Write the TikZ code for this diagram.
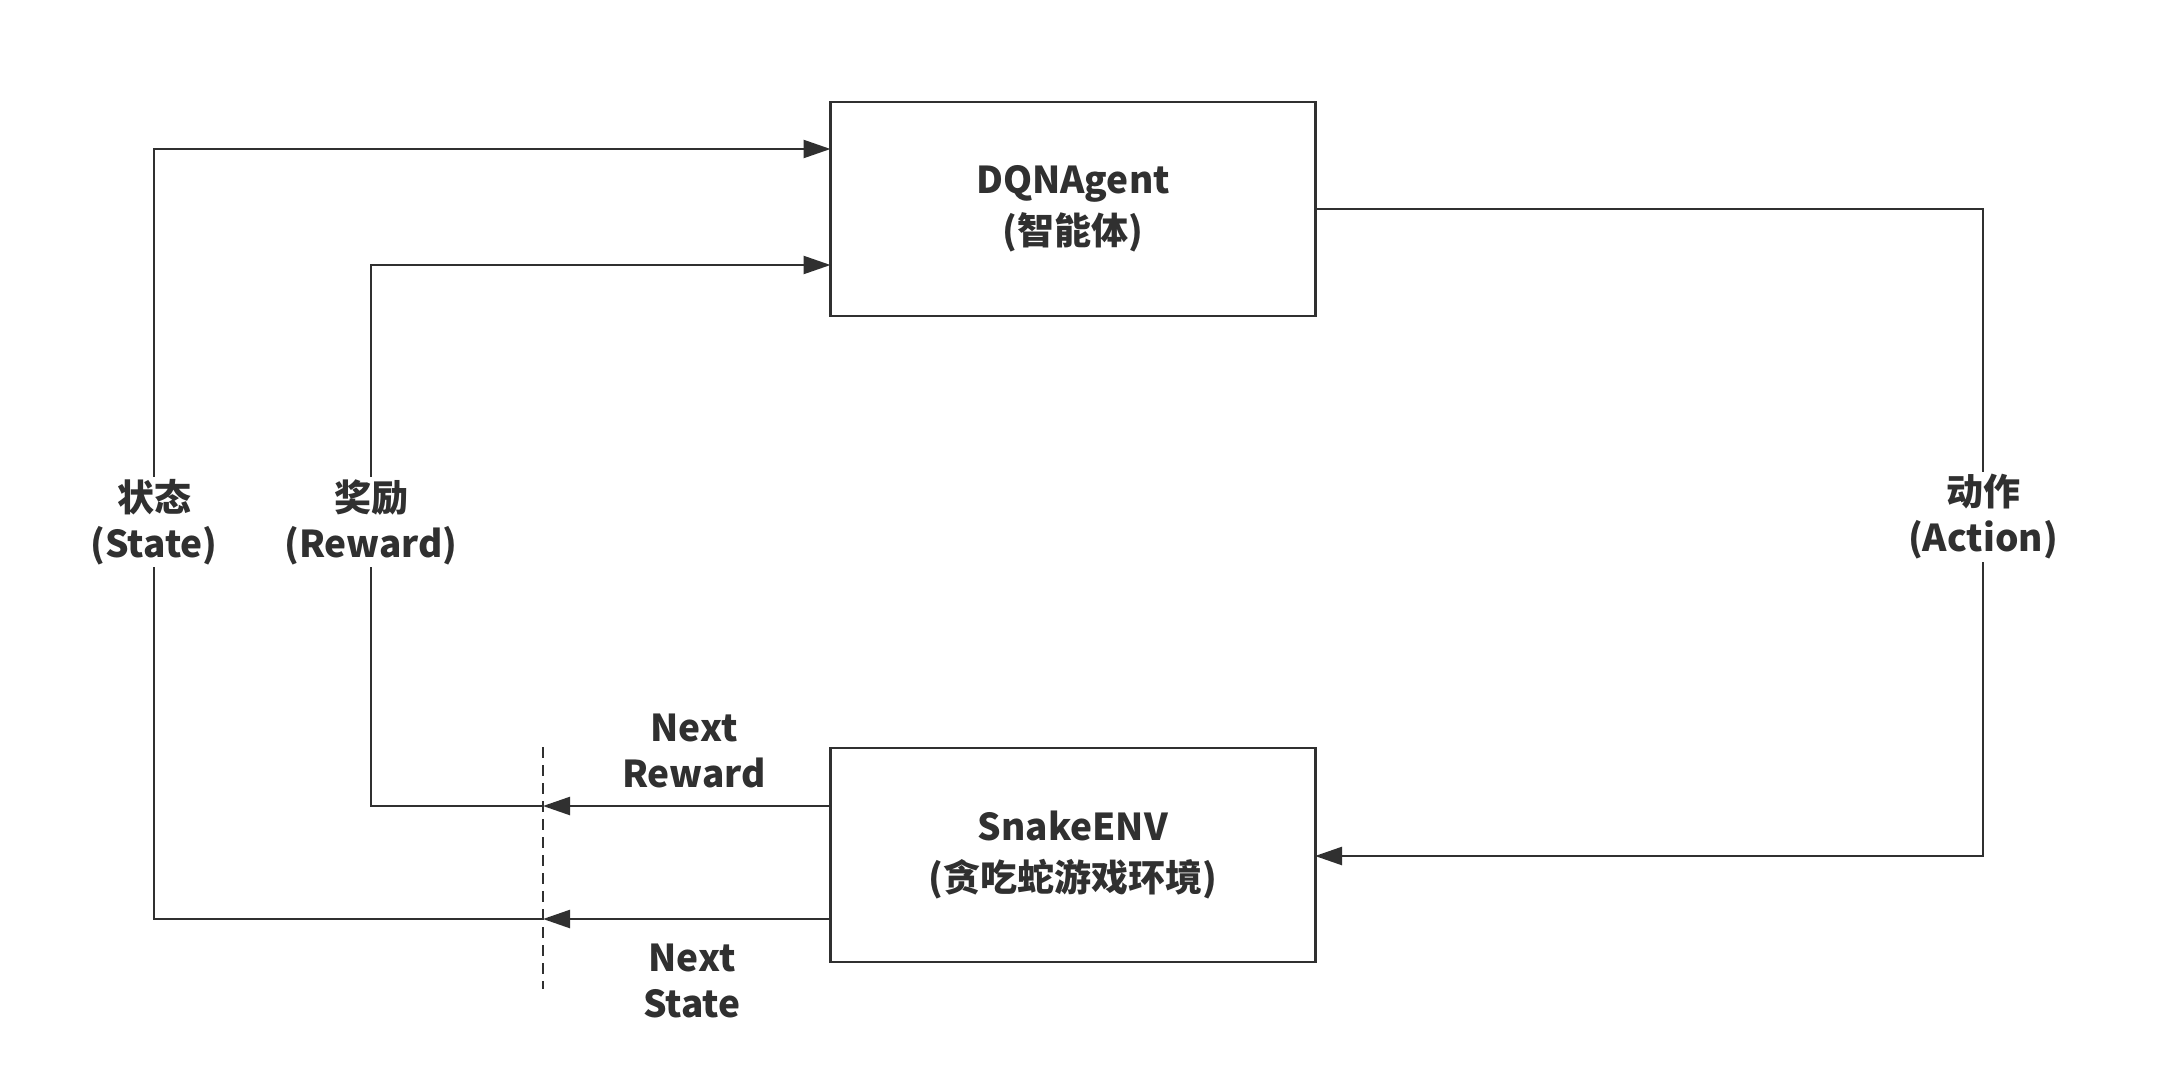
\documentclass[tikz,border=0pt]{standalone}
\usepackage{fontspec}
\setmainfont{Noto Sans CJK SC}
\usetikzlibrary{arrows.meta}
\definecolor{ink}{HTML}{303030}
\begin{document}
\begin{tikzpicture}[x=1pt,y=-1pt,
  box/.style={draw=ink,line width=2.6pt,minimum width=485pt,minimum height=214pt,inner sep=0pt,outer sep=0pt,align=center,text=ink,font=\fontsize{37}{51}\selectfont\bfseries},
  lbl/.style={fill=white,align=center,text=ink,inner sep=2pt,font=\fontsize{37}{46}\selectfont\bfseries},
  tlbl/.style={align=center,text=ink,inner sep=0pt,font=\fontsize{37}{46}\selectfont\bfseries},
  conn/.style={draw=ink,line width=2.4pt},
  arr/.style={conn,-{Triangle[length=27pt,width=18pt]}},
  dsh/.style={draw=ink,line width=2pt,dash pattern=on 11pt off 7pt}]
\useasboundingbox (0,0) rectangle (2178,1076);
\fill[white] (0,0) rectangle (2178,1076);
\node[box] (agent) at (1073,209) {DQNAgent\\(智能体)};
\node[box] (env) at (1073,855) {SnakeENV\\(贪吃蛇游戏环境)};
\coordinate (dtop) at (543,747);
\coordinate (dbot) at (543,989);
\coordinate (dashR) at (543,806);
\coordinate (dashS) at (543,919);
\coordinate (rCorner) at (371,265);
\coordinate (sCorner) at (154,149);
\coordinate (aX) at (1983,500);
\coordinate (envIn) at (1315,856);
% env -> dashed line
\draw[arr] (env.west |- dashR) -- (dashR);
\draw[arr] (env.west |- dashS) -- (dashS);
% dashed line -> agent
\draw[arr] (dashR) -| (rCorner) -- (agent.west |- rCorner);
\draw[arr] (dashS) -| (sCorner) -- (agent.west |- sCorner);
% action
\draw[arr] (agent.east) -| (aX) |- (envIn);
\draw[dsh] (dtop) -- (dbot);
% labels
\node[lbl] (slbl) at (154,522) {状态\\(State)};
\node[lbl] (rlbl) at (371,522) {奖励\\(Reward)};
\node[lbl] (albl) at (1983,517) {动作\\(Action)};
\node[tlbl] (nrlbl) at (694,751) {Next\\Reward};
\node[tlbl] (nslbl) at (692,981) {Next\\State};
\end{tikzpicture}
\end{document}
